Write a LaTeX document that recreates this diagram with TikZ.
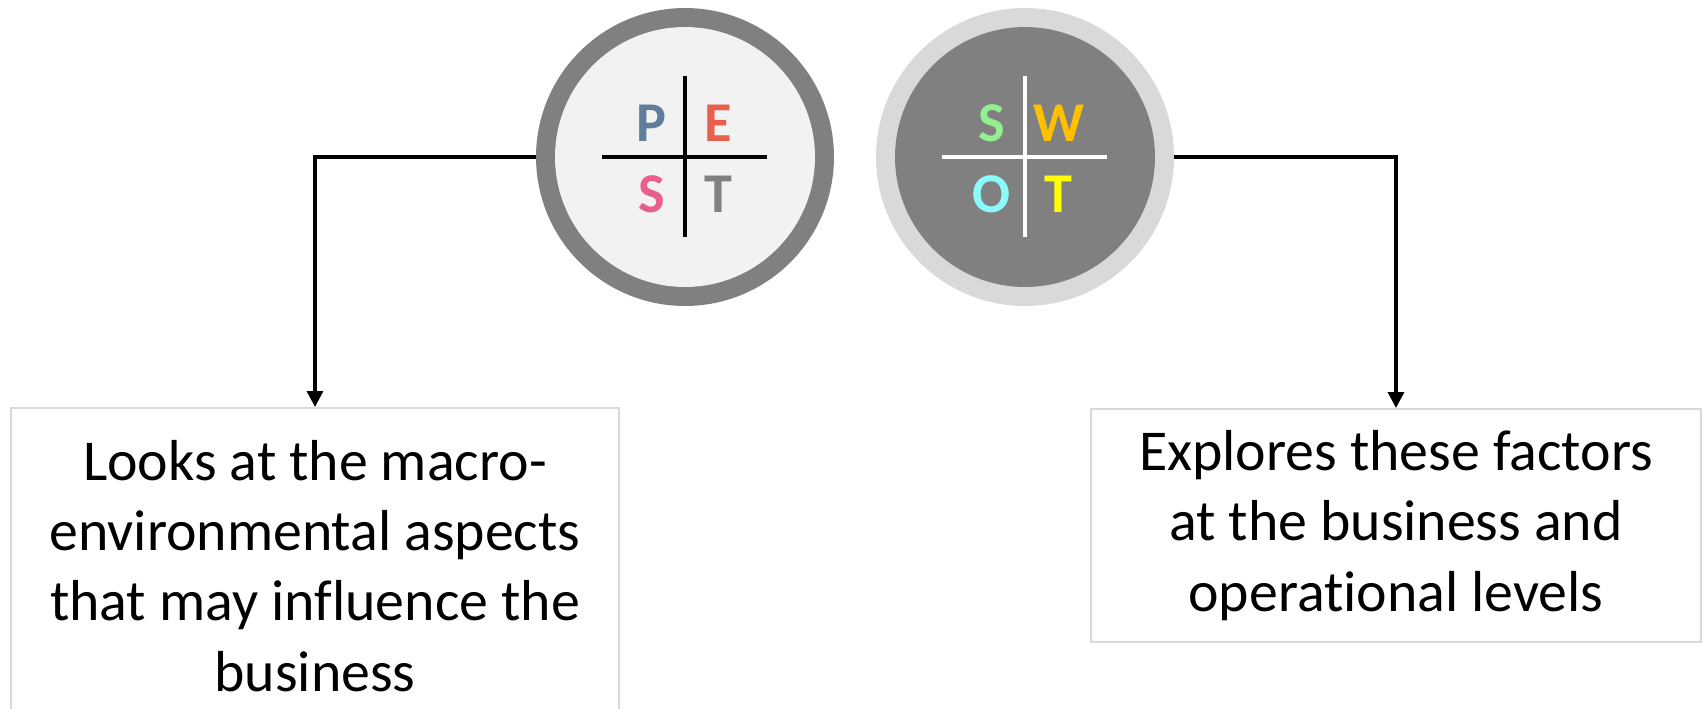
\documentclass[tikz,border=0pt]{standalone}
\usepackage{fontspec}
\setmainfont{Carlito}[Ligatures=NoCommon]
\usetikzlibrary{arrows.meta}

% ring and letter colours
\definecolor{pestring}{HTML}{808080}
\definecolor{pestfill}{HTML}{F2F2F2}
\definecolor{swotring}{HTML}{D9D9D9}
\definecolor{swotfill}{HTML}{808080}
\definecolor{boxgray}{HTML}{D9D9D9}
\definecolor{colP}{RGB}{96,125,155}
\definecolor{colE}{RGB}{232,96,76}
\definecolor{colS}{RGB}{232,96,138}
\definecolor{colT}{HTML}{808080}
\definecolor{swS}{RGB}{146,240,146}
\definecolor{swW}{HTML}{FFC000}
\definecolor{swO}{RGB}{140,250,250}
\definecolor{swT}{HTML}{FFFF00}

\tikzset{
  ring/.style={circle, minimum size=5.96cm, inner sep=0pt},
  disc/.style={circle, minimum size=5.2cm, inner sep=0pt},
  letter/.style={font=\fontsize{32}{32}\selectfont\bfseries},
  cross/.style={line width=2.3pt},
  infobox/.style={draw=boxgray, line width=1.1pt, align=center,
    font=\fontsize{32.9}{40}\selectfont, inner sep=0pt},
  link/.style={line width=1.8pt, -{Triangle[length=9pt,width=9pt]}}
}

\begin{document}
\begin{tikzpicture}[x=0.02cm,y=-0.02cm]
    \useasboundingbox (0,0) rectangle (1703,708);
    \clip (0,0) rectangle (1703,708);

    % PEST
    \node[ring, fill=pestring] (pest) at (685,157) {};
    \node[disc, fill=pestfill] (pestin) at (pest) {};
    \draw[cross, black] (602,157) -- (767,157);
    \draw[cross, black] (685,76) -- (685,237);
    \node[letter, text=colP] (pP) at (651,123) {P};
    \node[letter, text=colE] (pE) at (718,123) {E};
    \node[letter, text=colS] (pS) at (652,194) {S};
    \node[letter, text=colT] (pT) at (718,194) {T};

    % SWOT
    \node[ring, fill=swotring] (swot) at (1025,157) {};
    \node[disc, fill=swotfill] (swotin) at (swot) {};
    \draw[cross, white] (942,157) -- (1107,157);
    \draw[cross, white] (1025,76) -- (1025,237);
    \node[letter, text=swS] (sS) at (992,123) {S};
    \node[letter, text=swW] (sW) at (1059,123) {W};
    \node[letter, text=swO] (sO) at (991,194) {O};
    \node[letter, text=swT] (sT) at (1058,194) {T};

    % text boxes
    \node[infobox, anchor=north, minimum width=12.16cm, minimum height=6.32cm] (lbox) at (315,407)
        {Looks at the macro-\\environmental aspects\\that may influence the\\business};
    \node[infobox, anchor=north, minimum width=12.22cm, minimum height=4.66cm] (rbox) at (1396,408)
        {Explores these factors\\at the business and\\operational levels};

    % connectors
    \draw[link] (pest.west) -| (lbox.north);
    \draw[link] (swot.east) -| (rbox.north);
\end{tikzpicture}
\end{document}
